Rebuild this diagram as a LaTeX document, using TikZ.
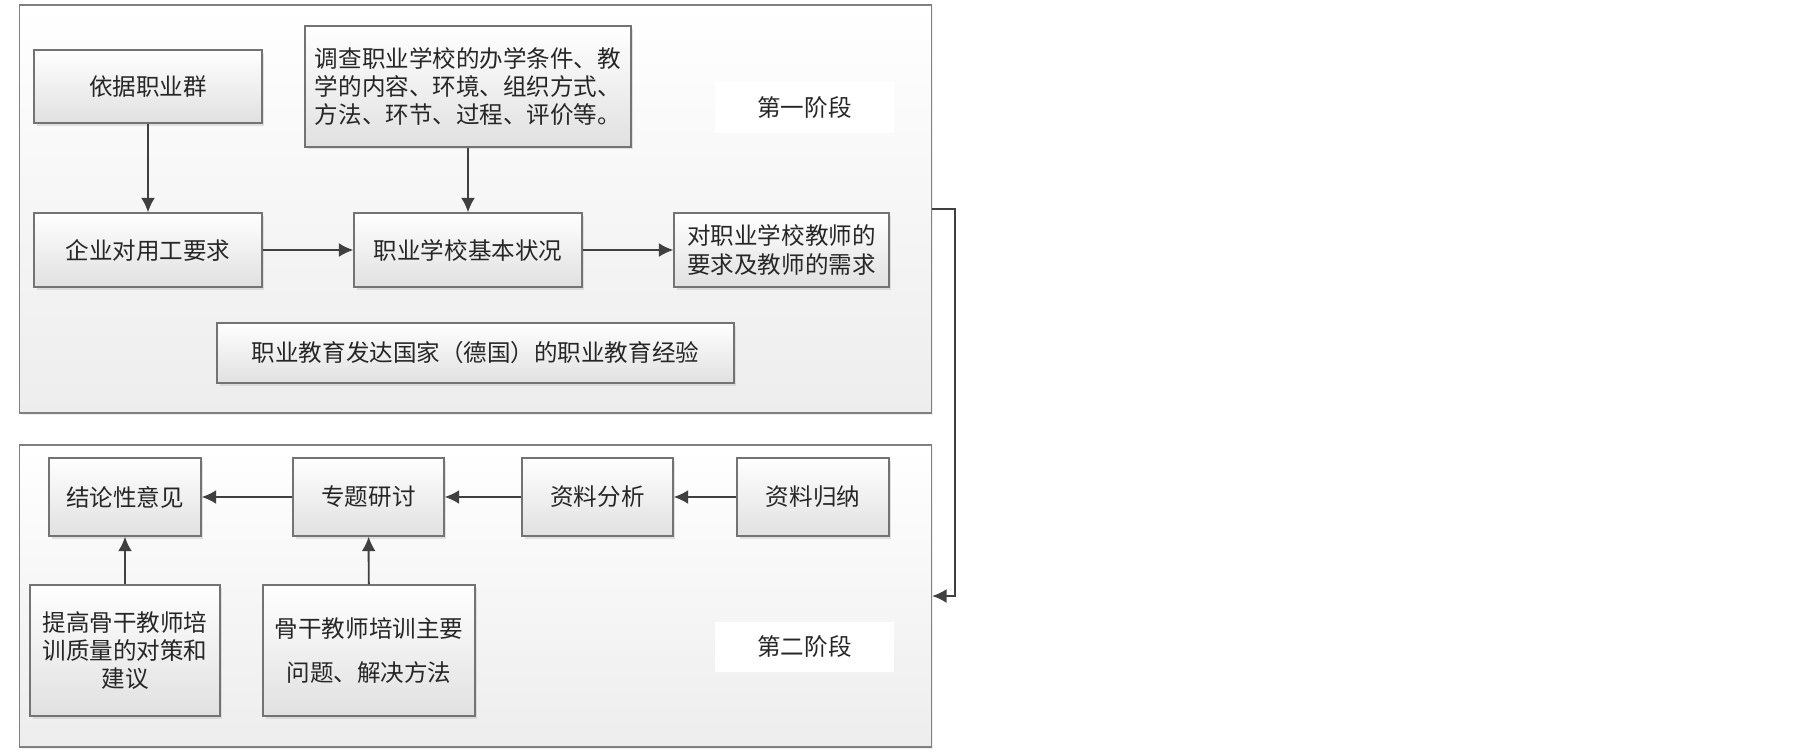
\documentclass[tikz,border=0pt]{standalone}
\usepackage{fontspec}
\newfontfamily\cjk{Noto Sans CJK SC}
\usetikzlibrary{arrows.meta,shadows}

\begin{document}
\begin{tikzpicture}[x=0.02cm,y=-0.02cm]

\tikzstyle{stagebox} = [rectangle, draw=black!50, line width=0.8pt, top color=white, bottom color=black!7, inner sep=0, drop shadow={shadow xshift=0.04cm, shadow yshift=-0.04cm, fill=black!12}]
\tikzstyle{state} = [rectangle, draw=black!55, line width=0.8pt, top color=white, bottom color=black!12, inner sep=0, drop shadow={shadow xshift=0.05cm, shadow yshift=-0.05cm, fill=black!22}, font=\cjk\fontsize{13.4}{16.1}\selectfont, text=black!85, align=center]
\tikzstyle{stagelabel} = [rectangle, fill=white, inner sep=0, font=\cjk\fontsize{13.4}{16.1}\selectfont, text=black!85]
\tikzstyle{flowarc} = [-{Latex[length=2.9mm,width=2.8mm]}, line width=1.1pt, draw=black!75]

\useasboundingbox (0,0) rectangle (1805,752);

\node[stagebox, minimum width=18.24cm, minimum height=8.16cm] (stageone) at (475.5,209) {};
\node[stagebox, minimum width=18.24cm, minimum height=6.04cm] (stagetwo) at (475.5,596) {};

\node[state, minimum width=4.56cm, minimum height=1.46cm] (jobgroup) at (148,86.5) {依据职业群};
\node[state, minimum width=6.52cm, minimum height=2.42cm, align=left] (survey) at (468,86.5) {调查职业学校的办学条件、教\\学的内容、环境、组织方式、\\方法、环节、过程、评价等。};
\node[stagelabel, minimum width=3.58cm, minimum height=1.02cm] (stageonelabel) at (804.5,107.5) {第一阶段};
\node[state, minimum width=4.56cm, minimum height=1.48cm] (demand) at (148,250) {企业对用工要求};
\node[state, minimum width=4.56cm, minimum height=1.48cm] (status) at (468,250) {职业学校基本状况};
\node[state, minimum width=4.30cm, minimum height=1.48cm, font=\cjk\fontsize{13.4}{17}\selectfont] (teacher) at (781.5,250) {对职业学校教师的\\要求及教师的需求};
\node[state, minimum width=10.34cm, minimum height=1.20cm] (abroad) at (475.5,353) {职业教育发达国家（德国）的职业教育经验};

\node[state, minimum width=3.04cm, minimum height=1.56cm] (conclusion) at (125,497) {结论性意见};
\node[state, minimum width=3.02cm, minimum height=1.56cm] (seminar) at (368.5,497) {专题研讨};
\node[state, minimum width=3.02cm, minimum height=1.56cm] (analysis) at (597.5,497) {资料分析};
\node[state, minimum width=3.04cm, minimum height=1.56cm] (induction) at (813,497) {资料归纳};
\node[state, minimum width=3.80cm, minimum height=2.62cm] (measures) at (125,650.5) {提高骨干教师培\\训质量的对策和\\建议};
\node[state, minimum width=4.24cm, minimum height=2.62cm, font=\cjk\fontsize{13.4}{24.5}\selectfont] (problems) at (369,650.5) {骨干教师培训主要\\问题、解决方法};
\node[stagelabel, minimum width=3.58cm, minimum height=1.00cm] (stagetwolabel) at (804.5,647) {第二阶段};

\draw[flowarc] (jobgroup) -- (demand);
\draw[flowarc] (survey) -- (status);
\draw[flowarc] (demand) -- (status);
\draw[flowarc] (status) -- (teacher);

\draw[flowarc] (induction) -- (analysis);
\draw[flowarc] (analysis) -- (seminar);
\draw[flowarc] (seminar) -- (conclusion);
\draw[flowarc] (measures) -- (conclusion);
\draw[flowarc] (problems) -- (seminar);

\draw[flowarc] (stageone.east) -- ++(23,0) |- (stagetwo.east);

\end{tikzpicture}
\end{document}
